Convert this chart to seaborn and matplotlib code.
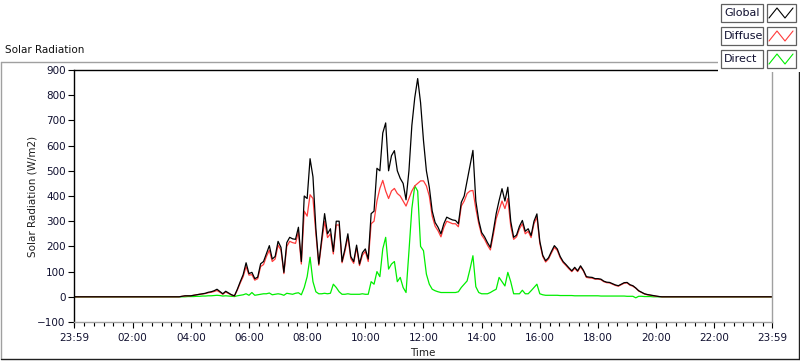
import numpy as np
import pandas as pd
import matplotlib
matplotlib.use("Agg")
import matplotlib.pyplot as plt
from matplotlib.lines import Line2D
from matplotlib.patches import Rectangle
from matplotlib.ticker import MultipleLocator
import seaborn as sns

# sample times (hours), 6-minute steps through the day, flat zero at night
day_hours = [round(3.6 + 0.1 * i, 1) for i in range(168)]
hours = [0.0, 3.5] + day_hours + [20.4, 24.0]

# W/m2
global_rad = [
    0, 0,
    0, 2, 4, 4,
    4, 6, 8, 10, 12, 14, 18, 20, 24, 30,
    21, 12, 22, 15, 8, 4, 30, 60, 88, 135,
    92, 97, 72, 78, 131, 140, 172, 203, 150, 160,
    220, 196, 97, 215, 236, 230, 228, 276, 140, 400,
    390, 548, 476, 270, 130, 230, 330, 250, 270, 180,
    300, 300, 140, 190, 250, 160, 140, 205, 130, 175,
    190, 150, 330, 340, 510, 500, 650, 690, 500, 560,
    580, 500, 470, 450, 385, 500, 680, 790, 866, 770,
    620, 500, 435, 340, 295, 276, 250, 290, 316, 310,
    305, 303, 290, 375, 400, 460, 520, 581, 380, 303,
    255, 238, 215, 196, 260, 330, 382, 429, 380, 435,
    300, 236, 245, 280, 303, 260, 270, 243, 300, 329,
    220, 165, 143, 155, 180, 203, 190, 160, 140, 128,
    115, 103, 117, 103, 123, 105, 80, 78, 77, 72,
    72, 70, 62, 58, 57, 52, 47, 44, 50, 56,
    57, 48, 44, 35, 24, 18, 12, 9, 7, 5,
    3, 1, 0, 0,
    0, 0,
]
diffuse_rad = [
    0, 0,
    0, 2, 3, 4,
    4, 6, 8, 10, 11, 13, 16, 18, 21, 25,
    18, 10, 19, 13, 7, 3, 27, 55, 80, 120,
    86, 88, 66, 72, 120, 128, 160, 185, 140, 150,
    205, 185, 92, 200, 220, 215, 212, 258, 130, 340,
    320, 405, 390, 250, 125, 215, 300, 235, 250, 170,
    285, 285, 135, 180, 238, 152, 133, 195, 124, 165,
    180, 140, 290, 300, 380, 430, 462, 420, 390, 420,
    430, 410, 400, 380, 360, 390, 420, 440, 450, 460,
    460, 440, 400, 320, 280, 262, 238, 275, 300, 295,
    290, 290, 278, 360, 380, 410, 420, 422, 350, 290,
    245, 228, 205, 186, 245, 310, 345, 380, 350, 390,
    280, 228, 238, 270, 290, 250, 260, 235, 290, 316,
    212, 160, 138, 150, 174, 196, 184, 155, 136, 124,
    111, 100, 113, 100, 119, 102, 77, 75, 74, 70,
    70, 68, 60, 56, 55, 50, 45, 42, 48, 54,
    55, 46, 42, 34, 23, 17, 11, 8, 6, 4,
    2, 1, 0, 0,
    0, 0,
]
direct_rad = [
    0, 0,
    0, 0, 0, 1,
    1, 1, 2, 2, 3, 3, 4, 4, 5, 6,
    5, 3, 4, 3, 2, 1, 4, 6, 8, 12,
    6, 17, 6, 8, 10, 12, 12, 15, 8, 10,
    12, 10, 6, 14, 12, 10, 14, 16, 8, 37,
    80, 157, 60, 20, 12, 12, 14, 12, 14, 50,
    37, 20, 10, 10, 12, 10, 10, 10, 10, 12,
    10, 10, 60, 50, 100, 80, 190, 236, 110, 130,
    140, 60, 77, 37, 17, 180, 350, 440, 420, 200,
    183, 90, 50, 30, 24, 20, 17, 17, 17, 17,
    17, 17, 20, 37, 50, 63, 110, 163, 40, 17,
    12, 12, 12, 17, 24, 30, 77, 60, 43, 97,
    60, 12, 12, 12, 26, 12, 12, 24, 37, 50,
    12, 8, 6, 6, 6, 6, 6, 5, 5, 5,
    5, 5, 4, 4, 4, 4, 4, 4, 4, 4,
    4, 3, 3, 3, 3, 3, 3, 3, 3, 3,
    2, 2, 2, -4, 2, 2, 1, 1, 1, 0,
    0, 0, 0, 0,
    0, 0,
]

series_names = ["Global", "Diffuse", "Direct"]
tick_labels = ["23:59", "02:00", "04:00", "06:00", "08:00", "10:00", "12:00",
               "14:00", "16:00", "18:00", "20:00", "22:00", "23:59"]
y_ticks = [-100, 0, 100, 200, 300, 400, 500, 600, 700, 800, 900]

colors = {"Global": "#000000", "Diffuse": "#ff3b3b", "Direct": "#00ee00"}

df = pd.DataFrame({"time": hours, "Global": global_rad,
                   "Diffuse": diffuse_rad, "Direct": direct_rad})
long_df = df.melt(id_vars="time", var_name="series", value_name="value")

sns.set_style("white")
plt.rcParams["font.family"] = ["DejaVu Sans"]

W, H = 800, 361
fig = plt.figure(figsize=(W / 100, H / 100), dpi=100)


def fx(x):
    return x / W


def fy(y):
    return 1 - y / H


ax = fig.add_axes([fx(74), fy(322), (772 - 74) / W, (322 - 70) / H])

sns.lineplot(data=long_df, x="time", y="value", hue="series",
             hue_order=["Direct", "Diffuse", "Global"], palette=colors,
             linewidth=0.9, legend=False, ax=ax, estimator=None)

ax.set_xlim(-1 / 60, 24 - 1 / 60)
ax.set_ylim(-100, 900)
major = [-1 / 60] + list(range(2, 24, 2)) + [24 - 1 / 60]
ax.set_xticks(major)
ax.set_xticklabels(tick_labels)
ax.xaxis.set_minor_locator(MultipleLocator(1 / 3))
ax.set_yticks(y_ticks)
ax.tick_params(axis="both", which="major", direction="out", length=4,
               width=0.8, labelsize=7.5, color="black", labelcolor="#101030",
               pad=2)
ax.tick_params(axis="x", which="minor", direction="out", length=3,
               width=0.8, color="black", bottom=True)
ax.tick_params(axis="x", which="major", bottom=True, pad=4)
ax.tick_params(axis="y", which="major", left=True)

for side in ["top", "left"]:
    ax.spines[side].set_color("black")
    ax.spines[side].set_linewidth(1.0)
for side in ["right", "bottom"]:
    ax.spines[side].set_color("#a0a0a0")
    ax.spines[side].set_linewidth(1.0)
ax.grid(False)

ax.set_xlabel("Time", fontsize=7.5, color="#202020")
ax.set_ylabel("Solar Radiation (W/m2)", fontsize=7.5, color="#202020")
ax.xaxis.set_label_coords(0.5, -0.105)
ax.yaxis.set_label_coords(-0.052, 0.5)

fig.text(fx(5), fy(50), "Solar Radiation", fontsize=7.5, va="center",
         ha="left", color="#101010")

# outer chart frame
tf = fig.transFigure
fig.add_artist(Line2D([fx(1), fx(799)], [fy(62), fy(62)], color="#a0a0a0", lw=1, transform=tf))
fig.add_artist(Line2D([fx(1), fx(1)], [fy(62), fy(359)], color="#a0a0a0", lw=1, transform=tf))
fig.add_artist(Line2D([fx(1), fx(799)], [fy(359), fy(359)], color="#202020", lw=1, transform=tf))
fig.add_artist(Line2D([fx(798.5), fx(798.5)], [fy(62), fy(359)], color="#202020", lw=1, transform=tf))

# legend panel in the top right corner
fig.add_artist(Rectangle((fx(718), fy(72)), fx(82), 72 / H, facecolor="white",
                         edgecolor="none", transform=tf, zorder=5))
box_tops = [4, 27, 50]
for name, top in zip(series_names, box_tops):
    bottom = top + 18
    fig.add_artist(Rectangle((fx(721), fy(bottom)), fx(42), 18 / H,
                             facecolor="white", edgecolor="#606060", lw=0.9,
                             transform=tf, zorder=6))
    fig.add_artist(Rectangle((fx(767), fy(bottom)), fx(29), 18 / H,
                             facecolor="white", edgecolor="#606060", lw=0.9,
                             transform=tf, zorder=6))
    fig.text(fx(724), fy(top + 9), name, fontsize=8, va="center", ha="left",
             color="#101030", zorder=7)
    zx = [fx(769), fx(777), fx(785), fx(793)]
    zy = [fy(top + 14), fy(top + 4), fy(top + 14), fy(top + 4)]
    fig.add_artist(Line2D(zx, zy, color=colors[name], lw=0.8, transform=tf, zorder=7))

fig.savefig("out.png", dpi=100)
